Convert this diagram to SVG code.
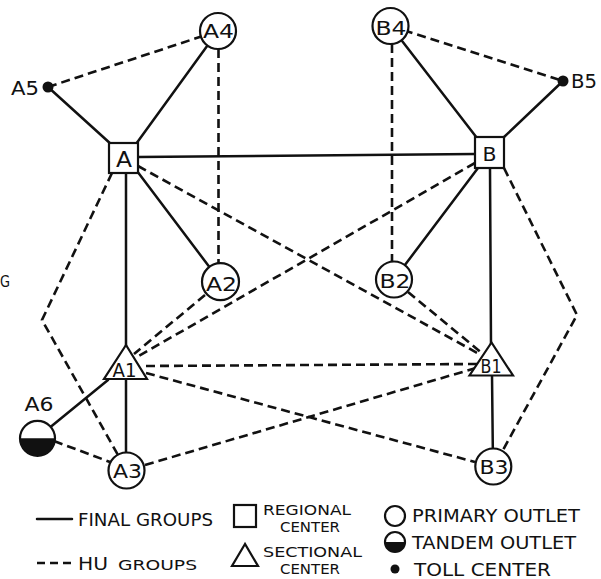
<svg xmlns="http://www.w3.org/2000/svg" width="601" height="579" viewBox="0 0 601 579">
<style>
.s{stroke:#111;stroke-width:2.5;fill:none;stroke-linecap:round}
.d{stroke:#111;stroke-width:2.6;fill:none;stroke-dasharray:9 5}
.n{fill:#fff;stroke:#111;stroke-width:2.2}
.k{fill:#111}
text{font-family:"DejaVu Sans","Liberation Sans",Arial,sans-serif;fill:#111}
.l{font-size:20px;text-anchor:middle}
.g{font-size:17px}
.h{font-size:14.5px}
</style>
<rect width="601" height="579" fill="#fff"/>
<text x="0" y="287" style="font-size:16px" textLength="10" lengthAdjust="spacingAndGlyphs">G</text>
<g id="connectors">
<line class="s" x1="48" y1="87" x2="112" y2="145"/>
<line class="s" x1="218" y1="31" x2="136" y2="144"/>
<line class="s" x1="138" y1="157" x2="475" y2="154"/>
<line class="s" x1="137" y1="171" x2="220.5" y2="281.7"/>
<line class="s" x1="126" y1="173" x2="126" y2="346"/>
<line class="s" x1="126" y1="379" x2="126" y2="470"/>
<line class="s" x1="108" y1="380" x2="37" y2="438"/>
<line class="s" x1="390.5" y1="26" x2="477" y2="138"/>
<line class="s" x1="563" y1="81" x2="503" y2="138"/>
<line class="s" x1="478" y1="168" x2="394" y2="279.5"/>
<line class="s" x1="490" y1="168" x2="491" y2="344"/>
<line class="s" x1="492" y1="375" x2="493" y2="466"/>
<line class="d" x1="48" y1="87" x2="218" y2="31"/>
<line class="d" x1="218.5" y1="49" x2="218.5" y2="264"/>
<line class="d" x1="390.5" y1="26" x2="563" y2="81"/>
<line class="d" x1="392" y1="44" x2="392" y2="262"/>
<line class="d" x1="138" y1="166" x2="481" y2="355"/>
<line class="d" x1="475" y1="163" x2="137" y2="357"/>
<line class="d" x1="205" y1="295" x2="134" y2="354"/>
<line class="d" x1="146" y1="366" x2="478" y2="364"/>
<line class="d" x1="146" y1="373" x2="475" y2="462"/>
<line class="d" x1="145" y1="465" x2="476" y2="368"/>
<line class="d" x1="54" y1="441" x2="110" y2="462"/>
<line class="d" x1="408" y1="292" x2="483" y2="354"/>
<polyline class="d" points="112,173 42,320 118,455"/>
<polyline class="d" points="504,168 577,315 503,450"/>
</g>
<g id="A4"><circle class="n" cx="218" cy="31" r="18"/><text class="l" x="218.5" y="38" textLength="31" lengthAdjust="spacingAndGlyphs">A4</text></g>
<g id="A5"><circle class="k" cx="48" cy="87" r="5.5"/><text class="l" x="25" y="95" textLength="28" lengthAdjust="spacingAndGlyphs">A5</text></g>
<g id="A"><rect class="n" x="109" y="143" width="29" height="30"/><text class="l" x="124" y="166.5" style="font-size:21px" textLength="16" lengthAdjust="spacingAndGlyphs">A</text></g>
<g id="B4"><circle class="n" cx="390.5" cy="26" r="18"/><text class="l" x="391" y="35" textLength="31" lengthAdjust="spacingAndGlyphs">B4</text></g>
<g id="B5"><circle class="k" cx="563" cy="81" r="5.5"/><text class="l" x="584" y="88" textLength="26" lengthAdjust="spacingAndGlyphs">B5</text></g>
<g id="B"><rect class="n" x="475" y="137" width="29" height="31"/><text class="l" x="489.5" y="160.5" style="font-size:20px" textLength="14" lengthAdjust="spacingAndGlyphs">B</text></g>
<g id="A2"><circle class="n" cx="220.5" cy="281.7" r="18.5"/><text class="l" x="221.5" y="290.5" textLength="31" lengthAdjust="spacingAndGlyphs">A2</text></g>
<g id="B2"><circle class="n" cx="394" cy="279.5" r="18"/><text class="l" x="395" y="287.5" textLength="31" lengthAdjust="spacingAndGlyphs">B2</text></g>
<g id="A1"><polygon class="n" points="126,345 104,379 147,379"/><text class="l" x="124.5" y="376.5" style="font-size:20px" textLength="24" lengthAdjust="spacingAndGlyphs">A1</text></g>
<g id="B1"><polygon class="n" points="491.5,342.5 469.5,375.5 513,375.5"/><text class="l" x="491" y="373" style="font-size:19px" textLength="21" lengthAdjust="spacingAndGlyphs">B1</text></g>
<g id="A6"><circle class="n" cx="37.5" cy="438.3" r="17.5"/><path class="k" d="M20,438.3 A17.5,17.5 0 0 0 55,438.3 Z"/><text class="l" x="39" y="411" textLength="29" lengthAdjust="spacingAndGlyphs">A6</text></g>
<g id="A3"><circle class="n" cx="126.5" cy="470.5" r="18"/><text class="l" x="127.5" y="477.5" textLength="29" lengthAdjust="spacingAndGlyphs">A3</text></g>
<g id="B3"><circle class="n" cx="493.3" cy="466.5" r="18"/><text class="l" x="494" y="474" textLength="29" lengthAdjust="spacingAndGlyphs">B3</text></g>
<g id="legend">
<line class="s" x1="37" y1="519" x2="72" y2="519"/>
<text class="g" x="78" y="526" textLength="135" lengthAdjust="spacingAndGlyphs">FINAL GROUPS</text>
<rect class="n" x="234" y="505" width="22" height="22"/>
<text class="h" x="263" y="515" textLength="88" lengthAdjust="spacingAndGlyphs">REGIONAL</text>
<text class="h" x="280" y="532" textLength="60" lengthAdjust="spacingAndGlyphs">CENTER</text>
<circle class="n" cx="395" cy="516" r="10"/>
<text class="g" x="412" y="522" textLength="168" lengthAdjust="spacingAndGlyphs">PRIMARY OUTLET</text>
<circle class="n" cx="395" cy="542" r="10"/><path class="k" d="M385,542 A10,10 0 0 0 405,542 Z"/>
<text class="g" x="412" y="549" textLength="164" lengthAdjust="spacingAndGlyphs">TANDEM OUTLET</text>
<line class="d" x1="37" y1="563" x2="72" y2="563" style="stroke-dasharray:8 5"/>
<text class="g" x="78" y="570" textLength="30" lengthAdjust="spacingAndGlyphs">HU</text>
<text x="118" y="570" style="font-size:14px" textLength="79" lengthAdjust="spacingAndGlyphs">GROUPS</text>
<polygon class="n" points="245,544 232,566 258,566"/>
<text class="h" x="263" y="557" textLength="99" lengthAdjust="spacingAndGlyphs">SECTIONAL</text>
<text class="h" x="280" y="574" textLength="60" lengthAdjust="spacingAndGlyphs">CENTER</text>
<circle class="k" cx="395" cy="569" r="4.5"/>
<text class="g" x="414" y="576" textLength="137" lengthAdjust="spacingAndGlyphs">TOLL CENTER</text>
</g>
</svg>
